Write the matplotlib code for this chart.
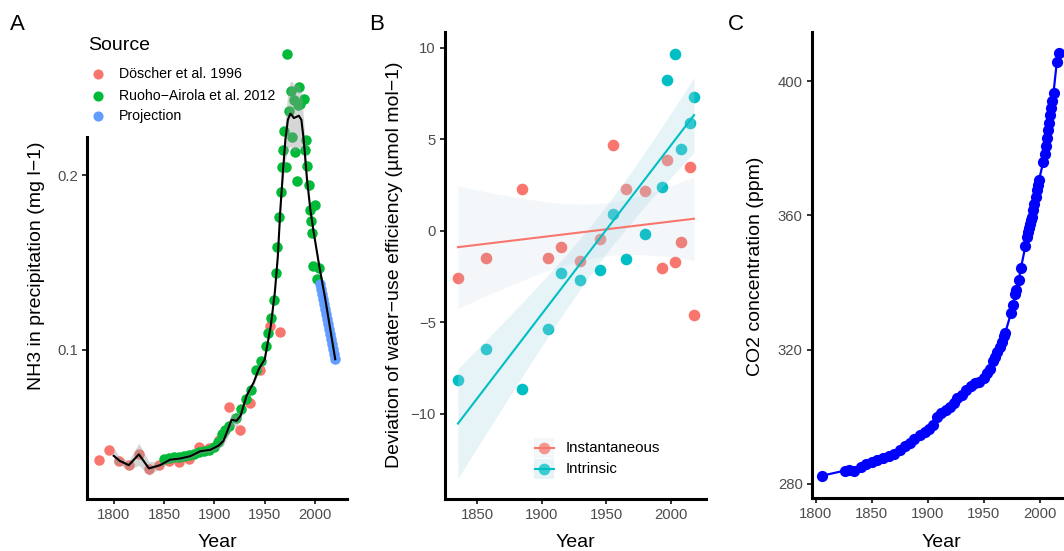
import numpy as np
import matplotlib
matplotlib.use('Agg')
import matplotlib.pyplot as plt
from matplotlib.ticker import FixedLocator, NullLocator, FixedFormatter
from matplotlib.patches import Rectangle
from matplotlib.lines import Line2D

plt.rcParams['font.family'] = ['Liberation Sans', 'DejaVu Sans']

W, H = 1064, 551

# ---------------- Panel A data ----------------
doscher_year = [1785, 1795, 1805, 1815, 1825, 1835, 1845, 1855, 1865, 1875,
                1885, 1895, 1905, 1915, 1925, 1935, 1945, 1955, 1965]
doscher_nh3 = [0.0646, 0.0672, 0.0644, 0.0633, 0.0663, 0.0623, 0.0634, 0.0644, 0.0640, 0.0649,
               0.0681, 0.0677, 0.0699, 0.0796, 0.0729, 0.0810, 0.0923, 0.1100, 0.1075]

ruoho_year = [1850, 1855, 1860, 1865, 1870, 1875, 1880, 1885, 1890, 1895, 1900,
              1904, 1908, 1911, 1915, 1921, 1926, 1931, 1936, 1941, 1946,
              1951, 1953, 1956, 1959, 1961, 1962, 1964, 1966, 1967, 1968, 1969,
              1971, 1972, 1974, 1976, 1977, 1979, 1980, 1982, 1983, 1984, 1985,
              1989, 1990, 1991, 1992, 1994, 1995, 1996, 1997, 1998, 2000, 2002, 2004]
ruoho_nh3 = [0.0649, 0.0651, 0.0653, 0.0655, 0.0657, 0.0660, 0.0663, 0.0667, 0.0670, 0.0673, 0.0680,
             0.0694, 0.0716, 0.0728, 0.0740, 0.0762, 0.0791, 0.0823, 0.0852, 0.0923, 0.0957,
             0.1016, 0.1071, 0.1137, 0.1219, 0.1359, 0.1506, 0.1696, 0.1870, 0.2067, 0.2214, 0.2381,
             0.2067, 0.3237, 0.2577, 0.2800, 0.2328, 0.2700, 0.2190, 0.1953, 0.2646, 0.2845, 0.2660,
             0.2706, 0.2214, 0.2304, 0.2078, 0.1928, 0.1746, 0.1667, 0.1592, 0.1394, 0.1781, 0.1323, 0.1386]

proj_year = [2005, 2006, 2007, 2008, 2009, 2010, 2011, 2012, 2013, 2014, 2015, 2016, 2017, 2018, 2019, 2020]
proj_nh3 = [0.1297, 0.1272, 0.1247, 0.1222, 0.1198, 0.1175, 0.1152, 0.1129, 0.1107, 0.1085,
            0.1064, 0.1043, 0.1023, 0.1003, 0.0983, 0.0964]

smooth_year = [1800, 1806, 1815, 1825, 1835, 1846, 1856, 1866, 1876, 1886,
               1896, 1904, 1909, 1913, 1917, 1922, 1926, 1932, 1939, 1944,
               1950, 1956, 1960, 1963, 1965.5, 1968, 1970.5, 1973, 1975.4, 1977,
               1978.8, 1981, 1983.8, 1986.4, 1988.7, 1992, 1995.3, 1998.7, 2004, 2010.2, 2020]
smooth_nh3 = [0.0657, 0.0644, 0.0633, 0.0661, 0.0625, 0.0633, 0.0647, 0.0650, 0.0656, 0.0669,
              0.0673, 0.0684, 0.0697, 0.0726, 0.0758, 0.0755, 0.0770, 0.0834, 0.0879, 0.0926,
              0.0964, 0.1100, 0.1255, 0.1450, 0.1746, 0.2019, 0.2304, 0.2494, 0.2554, 0.2540,
              0.2511, 0.2520, 0.2534, 0.2494, 0.2304, 0.1966, 0.1746, 0.1592, 0.1400, 0.1222, 0.0964]
smooth_se_log = [0.014, 0.006, 0.008, 0.019, 0.012, 0.005, 0.004, 0.004, 0.004, 0.004,
                 0.004, 0.005, 0.008, 0.012, 0.012, 0.010, 0.007, 0.005, 0.005, 0.005,
                 0.005, 0.005, 0.006, 0.008, 0.012, 0.020, 0.035, 0.050, 0.056, 0.058,
                 0.058, 0.056, 0.055, 0.048, 0.032, 0.015, 0.008, 0.006, 0.005, 0.004, 0.005]

source_labels = ['Döscher et al. 1996', 'Ruoho\u2212Airola et al. 2012', 'Projection']

# ---------------- Panel B data ----------------
wue_year = [1835, 1857, 1885, 1905, 1915, 1930, 1945, 1955, 1965, 1980,
            1993, 1997, 2003, 2008, 2015, 2018]
wue_instantaneous = [-2.58, -1.46, 2.28, -1.46, -0.89, -1.62, -0.45, 4.70, 2.30, 2.19,
                     -2.02, 3.88, -1.68, -0.60, 3.48, -4.59]
wue_intrinsic = [-8.14, -6.45, -8.63, -5.36, -2.28, -2.68, -2.13, 0.91, -1.55, -0.18,
                 2.42, 8.25, 9.67, 4.48, 5.92, 7.34]
wue_labels = ['Instantaneous', 'Intrinsic']

# ---------------- Panel C data ----------------
co2_year = [1806, 1826, 1830, 1834, 1840, 1845, 1850, 1855, 1860, 1865, 1870, 1875, 1880, 1884,
            1888, 1893, 1897, 1901, 1905, 1908, 1912, 1916, 1920, 1923, 1926, 1930, 1934, 1938,
            1942, 1946, 1950, 1953, 1955, 1958, 1960, 1962, 1964, 1966, 1968, 1969, 1974, 1976,
            1978, 1979, 1981, 1983, 1987, 1988, 1989, 1990, 1991, 1992, 1993, 1994, 1995, 1996,
            1997, 1998, 1999, 2003, 2004, 2005, 2006, 2007, 2008, 2009, 2010, 2011, 2012, 2015, 2017]
co2_ppm = [282.5, 284.0, 284.2, 283.8, 285.2, 285.9, 286.6, 287.1, 287.6, 288.2, 289.0, 290.2, 291.2, 292.1,
           293.3, 294.6, 295.4, 296.4, 297.6, 300.0, 301.0, 302.0, 302.8, 304.0, 305.5, 306.6, 308.0, 309.2,
           310.0, 310.5, 311.6, 313.0, 314.2, 316.5, 317.8, 319.2, 320.8, 322.4, 324.0, 325.0, 330.8, 333.3,
           336.5, 337.8, 340.8, 344.4, 350.9, 353.6, 355.0, 356.3, 357.5, 358.7, 359.6, 361.5, 363.5, 365.5,
           367.5, 369.0, 370.5, 376.0, 378.3, 380.6, 383.0, 385.3, 387.6, 389.9, 392.0, 394.2, 396.5, 405.8, 408.3]

RED = '#F8766D'
GREEN = '#00BA38'
BLUE = '#619CFF'
TEAL = '#00BFC4'

fig = plt.figure(figsize=(W / 100, H / 100), dpi=100)


def box(x0, y0, x1, y1):
    return [x0 / W, 1 - y1 / H, (x1 - x0) / W, (y1 - y0) / H]


def fx(x):
    return x / W


def fy(y):
    return 1 - y / H


def style(ax):
    for s in ['top', 'right']:
        ax.spines[s].set_visible(False)
    for s in ['left', 'bottom']:
        ax.spines[s].set_linewidth(2.2)
        ax.spines[s].set_color('black')
    ax.tick_params(length=3.5, width=1.4, color='#333333', labelsize=10.7,
                   labelcolor='#4D4D4D', pad=3)
    ax.patch.set_alpha(0)


# ---------------- Panel A ----------------
axA = fig.add_axes(box(87, 32, 347, 499))
style(axA)
axA.set_yscale('log')
axA.set_xlim(1773.5, 2031.7)
axA.set_ylim(0.05535, 0.3533)
axA.spines['left'].set_bounds(0.05535, 0.2331)
axA.yaxis.set_major_locator(FixedLocator([0.1, 0.2]))
axA.yaxis.set_major_formatter(FixedFormatter(['0.1', '0.2']))
axA.yaxis.set_minor_locator(NullLocator())
axA.set_xticks([1800, 1850, 1900, 1950, 2000])

sA = 57
axA.scatter(doscher_year, doscher_nh3, s=sA, color=RED, linewidths=0, zorder=2)
axA.scatter(ruoho_year, ruoho_nh3, s=sA, color=GREEN, linewidths=0, zorder=2)
axA.scatter(proj_year, proj_nh3, s=sA, color=BLUE, linewidths=0, zorder=2)
sy = np.array(smooth_year)
sv = np.array(smooth_nh3)
se = np.array(smooth_se_log)
axA.fill_between(sy, sv * 10 ** (-se), sv * 10 ** se, color='#999999', alpha=0.4,
                 linewidth=0, zorder=3)
axA.plot(sy, sv, color='black', lw=1.5, zorder=4)

# legend A
fig.text(fx(88), fy(50.5), 'Source', fontsize=14, ha='left', va='baseline')
for i, (lab, col) in enumerate(zip(source_labels, [RED, GREEN, BLUE])):
    yy = [74, 95.5, 116][i]
    fig.add_artist(Line2D([fx(98)], [fy(yy)], marker='o', markersize=7.3, color=col,
                          markeredgewidth=0, linestyle='none'))
    fig.text(fx(119), fy(yy), lab, fontsize=10.2, ha='left', va='center')

# ---------------- Panel B ----------------
axB = fig.add_axes(box(445, 32, 706, 498.5))
style(axB)
axB.set_xlim(1825.0, 2027.3)
axB.set_ylim(-14.62, 10.87)
axB.set_xticks([1850, 1900, 1950, 2000])
axB.set_yticks([-10, -5, 0, 5, 10])

x = np.array(wue_year, dtype=float)
T95 = 2.145  # t quantile, df = 14
xg = np.linspace(x.min(), x.max(), 100)
fits = []
for yvals in [wue_instantaneous, wue_intrinsic]:
    y = np.array(yvals)
    b, a = np.polyfit(x, y, 1)
    resid = y - (a + b * x)
    s = np.sqrt(np.sum(resid ** 2) / (len(x) - 2))
    sxx = np.sum((x - x.mean()) ** 2)
    yg = a + b * xg
    hw = T95 * s * np.sqrt(1 / len(x) + (xg - x.mean()) ** 2 / sxx)
    fits.append((yg, hw))

sB = 70
axB.scatter(wue_year, wue_instantaneous, s=sB, color=RED, linewidths=0, zorder=2)
axB.scatter(wue_year, wue_intrinsic, s=sB, color=TEAL, linewidths=0, zorder=2)
ribbon_cols = [('lightsteelblue', 0.13), ('lightblue', 0.30)]
for (yg, hw), col, (rc, ra) in zip(fits, [RED, TEAL], ribbon_cols):
    axB.fill_between(xg, yg - hw, yg + hw, color=rc, alpha=ra, linewidth=0, zorder=3)
for (yg, hw), col in zip(fits, [RED, TEAL]):
    axB.plot(xg, yg, color=col, lw=1.5, zorder=4)

# legend B
for i, (lab, col, (rc, ra)) in enumerate(zip(wue_labels, [RED, TEAL], ribbon_cols)):
    y0 = [438.3, 459.3][i]
    yc = y0 + 10
    fig.add_artist(Rectangle((fx(534.3), fy(y0 + 20)), 20 / W, 20 / H, transform=fig.transFigure,
                             facecolor=rc, alpha=ra, edgecolor='none'))
    fig.add_artist(Line2D([fx(535), fx(554)], [fy(yc), fy(yc)], color=col, lw=1.5))
    fig.add_artist(Line2D([fx(544.3)], [fy(yc)], marker='o', markersize=8.4, color=col,
                          markeredgewidth=0, linestyle='none', alpha=0.75))
    fig.text(fx(566), fy(yc), lab, fontsize=10.8, ha='left', va='center')

# ---------------- Panel C ----------------
axC = fig.add_axes(box(811.7, 32, 1071, 498))
style(axC)
axC.set_xlim(1796.4, 2027.6)
axC.set_ylim(275.83, 414.6)
axC.set_xticks([1800, 1850, 1900, 1950, 2000])
axC.set_yticks([280, 320, 360, 400])
axC.plot(co2_year, co2_ppm, color='#0000FF', lw=1.6, zorder=2)
axC.scatter(co2_year, co2_ppm, s=65, color='#0000FF', linewidths=0, zorder=3)

# ---------------- Axis titles and panel letters ----------------
for xc in [217, 575.5, 941]:
    fig.text(fx(xc), fy(547), 'Year', fontsize=14, ha='center', va='baseline')

fig.text(fx(37), fy(266), 'NH3 in precipitation (mg l\u22121)', fontsize=14, rotation=90,
         ha='center', va='center')
fig.text(fx(395), fy(265), 'Deviation of water\u2212use efficiency (\u00b5mol mol\u22121)', fontsize=14,
         rotation=90, ha='center', va='center')
fig.text(fx(755), fy(266), 'CO2 concentration (ppm)', fontsize=14, rotation=90,
         ha='center', va='center')

for lab, xl in [('A', 10), ('B', 369.3), ('C', 728.3)]:
    fig.text(fx(xl), fy(29.8), lab, fontsize=16, ha='left', va='baseline')

fig.savefig('out.png', dpi=100)
